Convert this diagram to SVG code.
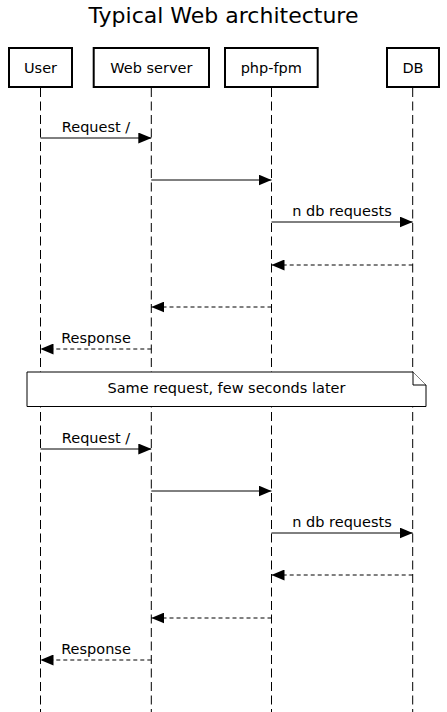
<svg xmlns="http://www.w3.org/2000/svg" width="447" height="712" viewBox="0 0 447 712">
<style>
text{font-family:"DejaVu Sans","Liberation Sans",sans-serif;fill:#000}
.t{font-size:22px;text-anchor:middle}
.a{font-size:14.5px;text-anchor:middle}
.box{fill:#fff;stroke:#000;stroke-width:2}
.life{stroke:#000;stroke-width:1;stroke-dasharray:9,4.5;fill:none}
.msg{stroke:#000;stroke-width:1;fill:none}
.ret{stroke:#000;stroke-width:1;fill:none;stroke-dasharray:4,3}
.note{fill:#fff;stroke:#000;stroke-width:1}
</style>
<defs>
<marker id="ah" viewBox="0 0 13 11" refX="13" refY="5.5" markerWidth="13" markerHeight="11" markerUnits="userSpaceOnUse" orient="auto">
<path d="M0,0 L13,5.5 L0,11 Z" fill="#000"/>
</marker>
</defs>
<text class="t" x="223.5" y="23">Typical Web architecture</text>
<g id="lifelines">
<line class="life" x1="40.5" y1="88" x2="40.5" y2="712"/>
<line class="life" x1="151.3" y1="88" x2="151.3" y2="712"/>
<line class="life" x1="271.5" y1="88" x2="271.5" y2="712"/>
<line class="life" x1="412.7" y1="88" x2="412.7" y2="712"/>
</g>
<g id="user"><rect class="box" x="9" y="48" width="63" height="39"/><text class="a" x="40.5" y="72.5">User</text></g>
<g id="webserver"><rect class="box" x="93.7" y="48" width="115.3" height="39"/><text class="a" x="151.3" y="72.5">Web server</text></g>
<g id="phpfpm"><rect class="box" x="225" y="48" width="92.7" height="39"/><text class="a" x="271.3" y="72.5">php-fpm</text></g>
<g id="db"><rect class="box" x="387" y="48" width="52" height="39"/><text class="a" x="413" y="72.5">DB</text></g>
<g id="connectors">
<line class="msg" x1="40.5" y1="138" x2="151.3" y2="138" marker-end="url(#ah)"/>
<line class="msg" x1="151.3" y1="180" x2="271.5" y2="180" marker-end="url(#ah)"/>
<line class="msg" x1="271.5" y1="222" x2="412.7" y2="222" marker-end="url(#ah)"/>
<line class="ret" x1="412.7" y1="265" x2="271.5" y2="265" marker-end="url(#ah)"/>
<line class="ret" x1="271.5" y1="307" x2="151.3" y2="307" marker-end="url(#ah)"/>
<line class="ret" x1="151.3" y1="349" x2="40.5" y2="349" marker-end="url(#ah)"/>
<line class="msg" x1="40.5" y1="449" x2="151.3" y2="449" marker-end="url(#ah)"/>
<line class="msg" x1="151.3" y1="491" x2="271.5" y2="491" marker-end="url(#ah)"/>
<line class="msg" x1="271.5" y1="533" x2="412.7" y2="533" marker-end="url(#ah)"/>
<line class="ret" x1="412.7" y1="575" x2="271.5" y2="575" marker-end="url(#ah)"/>
<line class="ret" x1="271.5" y1="618" x2="151.3" y2="618" marker-end="url(#ah)"/>
<line class="ret" x1="151.3" y1="660" x2="40.5" y2="660" marker-end="url(#ah)"/>
<text class="a" x="96" y="132">Request /</text>
<text class="a" x="342" y="216">n db requests</text>
<text class="a" x="96" y="343">Response</text>
<text class="a" x="96" y="443">Request /</text>
<text class="a" x="342" y="527">n db requests</text>
<text class="a" x="96" y="654">Response</text>
</g>
<g id="note">
<path class="note" d="M27,372 L413,372 L426,385 L426,406.5 L27,406.5 Z"/>
<path class="note" d="M413,372 L413,385 L426,385" fill="none"/>
<text class="a" x="226.5" y="393">Same request, few seconds later</text>
</g>
</svg>
